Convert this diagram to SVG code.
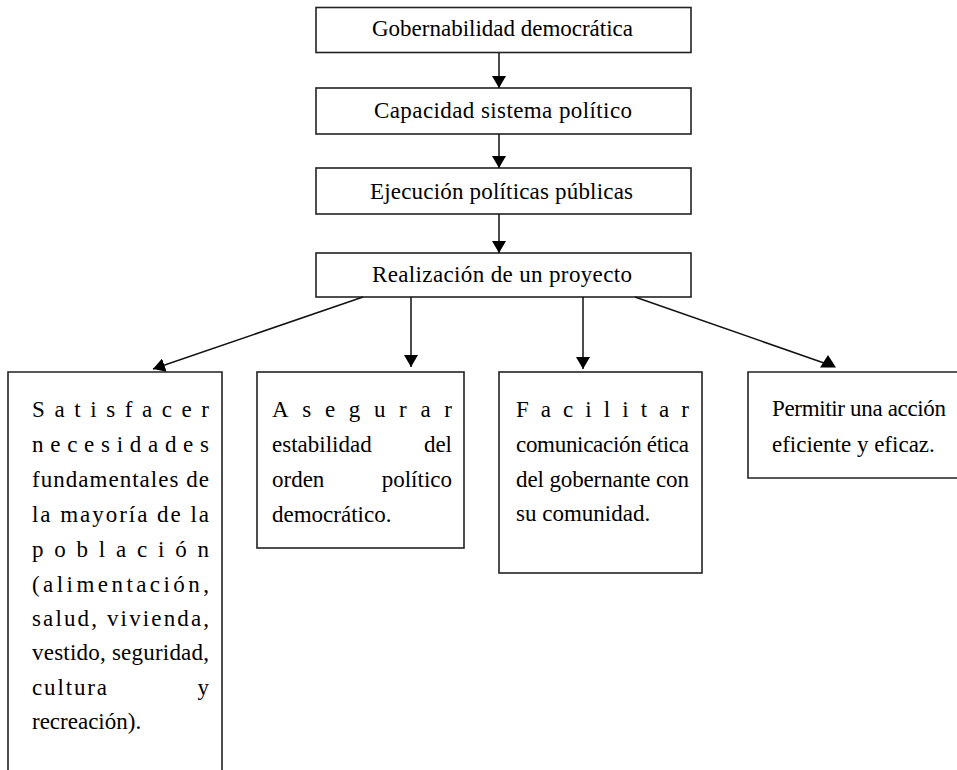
<svg xmlns="http://www.w3.org/2000/svg" width="957" height="770" viewBox="0 0 957 770">
<defs>
<style>
.box{fill:#fff;stroke:#222;stroke-width:1.6}
.t{font-family:"Liberation Serif","Times New Roman",serif;font-size:23px;fill:#000}
.r{text-anchor:end}
.c{stroke:#111;stroke-width:1.5;fill:none}
</style>
<marker id="ah" markerUnits="userSpaceOnUse" viewBox="0 0 12 14" refX="12" refY="7" markerWidth="12" markerHeight="14" orient="auto">
<path d="M0,0 L12,7 L0,14 Z" fill="#000"/>
</marker>
</defs>
<rect width="957" height="770" fill="#fff"/>

<g id="n1">
<rect class="box" x="316" y="7.5" width="375" height="45"/>
<text class="t" x="372" y="36" textLength="261" lengthAdjust="spacing">Gobernabilidad democrática</text>
</g>
<g id="n2">
<rect class="box" x="316" y="88" width="375" height="46"/>
<text class="t" x="374" y="118" textLength="258" lengthAdjust="spacing">Capacidad sistema político</text>
</g>
<g id="n3">
<rect class="box" x="316" y="168" width="375" height="46"/>
<text class="t" x="370" y="199" textLength="263" lengthAdjust="spacing">Ejecución políticas públicas</text>
</g>
<g id="n4">
<rect class="box" x="316" y="253" width="375" height="44"/>
<text class="t" x="372" y="282" textLength="260" lengthAdjust="spacing">Realización de un proyecto</text>
</g>

<g id="n5">
<path class="box" d="M8,772 L8,372 L222,372 L222,772"/>
<text class="t" x="32" y="417" textLength="177" lengthAdjust="spacing">Satisfacer</text>
<text class="t" x="32" y="452" textLength="177" lengthAdjust="spacing">necesidades</text>
<text class="t" x="32" y="487" textLength="177" lengthAdjust="spacing">fundamentales de</text>
<text class="t" x="32" y="522" textLength="177" lengthAdjust="spacing">la mayoría de la</text>
<text class="t" x="32" y="557" textLength="177" lengthAdjust="spacing">población</text>
<text class="t" x="32" y="592" textLength="177" lengthAdjust="spacing">(alimentación,</text>
<text class="t" x="32" y="626" textLength="177" lengthAdjust="spacing">salud, vivienda,</text>
<text class="t" x="32" y="660" textLength="177" lengthAdjust="spacing">vestido, seguridad,</text>
<text class="t" x="32" y="695" textLength="75" lengthAdjust="spacing">cultura</text>
<text class="t r" x="209" y="695">y</text>
<text class="t" x="32" y="729">recreación).</text>
</g>

<g id="n6">
<rect class="box" x="257" y="372" width="207" height="176"/>
<text class="t" x="272" y="417" textLength="180" lengthAdjust="spacing">Asegurar</text>
<text class="t" x="272" y="452">estabilidad</text>
<text class="t r" x="452" y="452">del</text>
<text class="t" x="272" y="487">orden</text>
<text class="t r" x="452" y="487">político</text>
<text class="t" x="272" y="522">democrático.</text>
</g>

<g id="n7">
<rect class="box" x="499" y="372" width="203" height="201"/>
<text class="t" x="516" y="417" textLength="173" lengthAdjust="spacing">Facilitar</text>
<text class="t" x="516" y="452" textLength="173" lengthAdjust="spacing">comunicación ética</text>
<text class="t" x="516" y="487" textLength="173" lengthAdjust="spacing">del gobernante con</text>
<text class="t" x="516" y="521">su comunidad.</text>
</g>

<g id="n8">
<path class="box" d="M960,372 L748,372 L748,478 L960,478"/>
<text class="t" x="772" y="416" textLength="174" lengthAdjust="spacing">Permitir una acción</text>
<text class="t" x="772" y="452">eficiente y eficaz.</text>
</g>

<g id="connectors">
<line class="c" x1="499" y1="53" x2="499" y2="88" marker-end="url(#ah)"/>
<line class="c" x1="499" y1="134" x2="499" y2="168" marker-end="url(#ah)"/>
<line class="c" x1="499" y1="214" x2="499" y2="253" marker-end="url(#ah)"/>
<line class="c" x1="363" y1="297" x2="153" y2="369" marker-end="url(#ah)"/>
<line class="c" x1="411" y1="297" x2="411" y2="367" marker-end="url(#ah)"/>
<line class="c" x1="583" y1="297" x2="583" y2="369" marker-end="url(#ah)"/>
<line class="c" x1="635" y1="297" x2="824" y2="363"/>
<polygon points="828,355 820,367.5 836,367.5" fill="#000"/>
</g>
</svg>
